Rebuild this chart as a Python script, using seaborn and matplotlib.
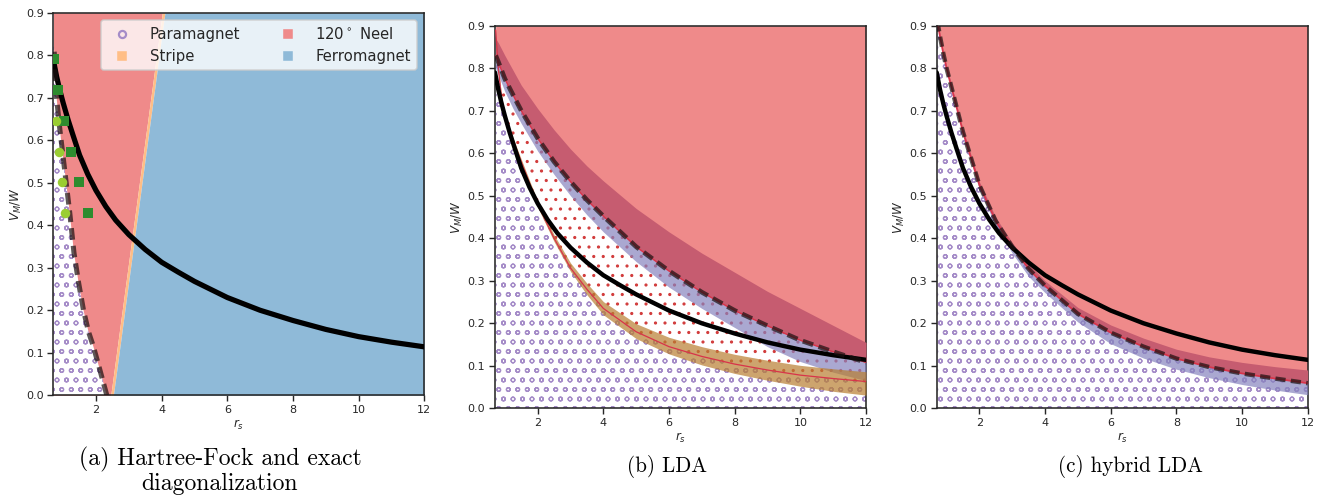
import matplotlib
matplotlib.use("Agg")
import matplotlib.pyplot as plt
import seaborn as sns
from matplotlib.lines import Line2D

# ---------------- data ----------------
# black solid line (same in all three panels)
RS_LINE = [0.70, 0.80, 0.90, 1.00, 1.15, 1.30, 1.50, 1.75, 2.00, 2.30, 2.60, 3.00, 3.50, 4.00, 4.50,
           5.00, 6.00, 7.00, 8.00, 9.00, 10.0, 11.0, 12.0]
V_LINE = [0.79, 0.75, 0.717, 0.688, 0.648, 0.612, 0.565, 0.520, 0.482, 0.444, 0.412, 0.378, 0.343, 0.313,
          0.290, 0.268, 0.230, 0.200, 0.176, 0.155, 0.138, 0.125, 0.114]

# panel (a): Hartree-Fock phase boundaries
V_PM_A = [0.0, 0.065, 0.115, 0.15, 0.20, 0.265, 0.335, 0.43, 0.495, 0.56, 0.625, 0.70, 0.82]
RS_PM_A = [2.33, 2.10, 1.92, 1.77, 1.62, 1.47, 1.33, 1.20, 1.10, 1.00, 0.90, 0.80, 0.72]
V_EDGE = [0.0, 0.9]
RS_NEEL_EDGE = [2.45, 4.02]
RS_FERRO_EDGE = [2.53, 4.10]
# exact diagonalization points
ED_SQ_RS = [0.71, 0.85, 1.04, 1.24, 1.49, 1.75]
ED_SQ_V = [0.79, 0.718, 0.646, 0.573, 0.502, 0.430]
ED_CI_RS = [0.77, 0.86, 0.96, 1.07]
ED_CI_V = [0.646, 0.573, 0.502, 0.430]

# panel (b): LDA
RS_B = [0.72, 0.8, 0.9, 1.0, 1.25, 1.5, 2.0, 2.5, 3.0, 3.5, 4.0, 5.0, 6.0, 7.0, 8.0, 9.0, 10.0, 11.0, 12.0]
DASH_B = [0.83, 0.815, 0.795, 0.775, 0.737, 0.70, 0.635, 0.58, 0.533, 0.49, 0.452, 0.38, 0.323, 0.273, 0.23, 0.194, 0.16, 0.133, 0.108]
DRED_TOP_B = [0.87, 0.86, 0.845, 0.83, 0.795, 0.76, 0.705, 0.655, 0.61, 0.57, 0.535, 0.47, 0.415, 0.365, 0.32, 0.275, 0.235, 0.195, 0.155]
LAV_LO_B = [0.80, 0.785, 0.765, 0.745, 0.705, 0.67, 0.605, 0.55, 0.50, 0.455, 0.415, 0.345, 0.285, 0.235, 0.19, 0.145, 0.11, 0.085, 0.065]
TAN_MID_B = [0.89, 0.80, 0.73, 0.69, 0.63, 0.58, 0.48, 0.40, 0.33, 0.28, 0.235, 0.18, 0.145, 0.122, 0.104, 0.09, 0.078, 0.07, 0.063]
TAN_HI_B = [0.895, 0.805, 0.735, 0.695, 0.636, 0.586, 0.487, 0.408, 0.342, 0.294, 0.251, 0.199, 0.167, 0.145, 0.127, 0.113, 0.101, 0.093, 0.086]
TAN_LO_B = [0.885, 0.795, 0.725, 0.685, 0.624, 0.574, 0.473, 0.392, 0.322, 0.267, 0.22, 0.164, 0.128, 0.102, 0.082, 0.066, 0.052, 0.04, 0.031]

# panel (c): hybrid LDA
RS_C = [0.72, 0.8, 0.9, 1.0, 1.25, 1.5, 2.0, 2.5, 3.0, 3.5, 4.0, 5.0, 6.0, 7.0, 8.0, 9.0, 10.0, 11.0, 12.0]
DASH_C = [0.91, 0.875, 0.835, 0.80, 0.725, 0.65, 0.525, 0.44, 0.38, 0.328, 0.288, 0.222, 0.178, 0.145, 0.117, 0.097, 0.082, 0.07, 0.059]
DRED_TOP_C = [0.915, 0.88, 0.84, 0.806, 0.731, 0.657, 0.533, 0.449, 0.39, 0.339, 0.30, 0.237, 0.196, 0.165, 0.139, 0.121, 0.108, 0.098, 0.09]
LAV_LO_C = [0.905, 0.87, 0.83, 0.795, 0.72, 0.643, 0.515, 0.428, 0.365, 0.31, 0.272, 0.203, 0.152, 0.118, 0.092, 0.072, 0.056, 0.043, 0.032]

X_TICKS = [2, 4, 6, 8, 10, 12]
Y_TICKS = [0.0, 0.1, 0.2, 0.3, 0.4, 0.5, 0.6, 0.7, 0.8, 0.9]
LEGEND_LABELS = ["Paramagnet", "Stripe", r"120$^\circ$ Neel", "Ferromagnet"]
CAPTIONS = ["(a) Hartree-Fock and exact\ndiagonalization", "(b) LDA", "(c) hybrid LDA"]

# ---------------- style ----------------
RED = "#EF8A8A"
BLUE = "#8FBAD8"
ORANGE = "#FFBE86"
PURP = "#A58CC8"
DOTRED = "#D23C3C"
DRED = "#C65C70"
LAV = "#8683BE"
TAN = "#B87E30"
THINRED = "#D8344A"

DPI = 114
sns.set_theme(style="ticks", rc={
    "axes.edgecolor": ".15", "axes.linewidth": 1.0,
    "xtick.major.size": 3.6, "ytick.major.size": 3.6,
    "xtick.major.width": 0.9, "ytick.major.width": 0.9,
    "xtick.labelsize": 7, "ytick.labelsize": 7,
    "xtick.major.pad": 2.8, "ytick.major.pad": 2.5,
    "xtick.color": ".15", "ytick.color": ".15",
    "axes.labelsize": 7.5, "axes.labelcolor": ".15",
    "hatch.linewidth": 0.8,
    "legend.fontsize": 9.4,
})

fig = plt.figure(figsize=(1320 / DPI, 498 / DPI), dpi=DPI)
W, H = 1320.0, 498.0


def make_ax(left_px, top_px):
    return fig.add_axes([left_px / W, 1 - (top_px + 382.6) / H, 371 / W, 382.6 / H])


axA = make_ax(53.3, 12.7)
axB = make_ax(495.0, 25.7)
axC = make_ax(936.7, 25.7)


def finish(ax):
    ax.set_xlim(0.7, 12)
    ax.set_ylim(0, 0.9)
    ax.set_xticks(X_TICKS)
    ax.set_yticks(Y_TICKS)
    ax.set_xlabel(r"$r_s$")
    ax.set_ylabel(r"$V_M/W$")
    ax.yaxis.set_label_coords(-0.08, 0.5)
    ax.xaxis.set_label_coords(0.5, -0.058)
    for s in ax.spines.values():
        s.set_visible(True)


def black_line(ax, lw):
    sns.lineplot(x=RS_LINE, y=V_LINE, ax=ax, color="black", lw=lw, zorder=5, legend=False)


def dashed(ax, x, y, lw=3.0):
    ax.plot(x, y, color="#1a1010", alpha=0.7, lw=lw, ls=(0, (2.3, 1.2)), zorder=6,
            solid_capstyle="butt", dash_capstyle="butt")


# ---- panel (a)
axA.fill_betweenx(V_EDGE, 0.7, RS_NEEL_EDGE, color=RED, lw=0, zorder=1)
axA.fill_betweenx(V_EDGE, RS_NEEL_EDGE, RS_FERRO_EDGE, color=ORANGE, lw=0, zorder=1)
axA.fill_betweenx(V_EDGE, RS_FERRO_EDGE, 12, color=BLUE, lw=0, zorder=1)
axA.fill_betweenx(V_PM_A, 0.7, RS_PM_A, facecolor="white", edgecolor=PURP, hatch="oo", lw=0, zorder=2)
black_line(axA, 3.3)
dashed(axA, RS_PM_A, V_PM_A, 3.2)
sns.scatterplot(x=ED_SQ_RS, y=ED_SQ_V, ax=axA, marker="s", color="#2E8B2E", s=36, linewidth=0, zorder=7)
sns.scatterplot(x=ED_CI_RS, y=ED_CI_V, ax=axA, marker="o", color="#9ACD32", s=36, linewidth=0, zorder=7)
handles = [
    Line2D([], [], ls="none", marker="o", markerfacecolor="none", markeredgecolor=PURP, mew=1.4, ms=4.5),
    Line2D([], [], ls="none", marker="s", color=ORANGE, ms=4.8),
    Line2D([], [], ls="none", marker="s", color=RED, ms=4.8),
    Line2D([], [], ls="none", marker="s", color=BLUE, ms=4.8),
]
leg = axA.legend(handles, LEGEND_LABELS, ncol=2, loc="upper right", borderaxespad=0.5,
                 handlelength=2.0, handletextpad=0.85, columnspacing=2.2, labelspacing=0.45,
                 frameon=True, framealpha=0.8, edgecolor="0.8", fancybox=True)
leg.set_zorder(10)
finish(axA)

# ---- panel (b)
axB.fill_between(RS_B, 0, TAN_MID_B, facecolor="white", edgecolor=PURP, hatch="oo", lw=0, zorder=1)
axB.fill_between(RS_B, TAN_MID_B, DASH_B, facecolor="white", edgecolor=DOTRED, hatch="..", lw=0, zorder=1)
axB.fill_between(RS_B, DASH_B, 0.9, color=RED, lw=0, zorder=2)
axB.fill_between(RS_B, DASH_B, DRED_TOP_B, color=DRED, lw=0, zorder=3)
axB.fill_between(RS_B, LAV_LO_B, DASH_B, color=LAV, alpha=0.7, lw=0, zorder=3.5)
axB.fill_between(RS_B, TAN_LO_B, TAN_HI_B, color=TAN, alpha=0.7, lw=0, zorder=3.6)
axB.plot(RS_B, TAN_MID_B, color=THINRED, lw=0.8, zorder=4)
axB.plot(RS_B, DASH_B, color=THINRED, lw=0.9, zorder=4)
black_line(axB, 2.8)
dashed(axB, RS_B, DASH_B, 3.0)
finish(axB)

# ---- panel (c)
axC.fill_between(RS_C, 0, DASH_C, facecolor="white", edgecolor=PURP, hatch="oo", lw=0, zorder=1)
axC.fill_between(RS_C, DASH_C, 0.9, color=RED, lw=0, zorder=2)
axC.fill_between(RS_C, DASH_C, DRED_TOP_C, color=DRED, lw=0, zorder=3)
axC.fill_between(RS_C, LAV_LO_C, DASH_C, color=LAV, alpha=0.7, lw=0, zorder=3.5)
axC.plot(RS_C, DASH_C, color=THINRED, lw=1.1, zorder=4)
black_line(axC, 2.8)
dashed(axC, RS_C, DASH_C, 2.8)
finish(axC)

# ---- captions
cap_kw = dict(fontfamily="cmr10", ha="center", va="center", color="black")
fig.text(220 / W, 1 - 471 / H, CAPTIONS[0], linespacing=1.1, fontsize=15, **cap_kw)
fig.text(667 / W, 1 - 467 / H, CAPTIONS[1], fontsize=13.3, **cap_kw)
fig.text(1130 / W, 1 - 467 / H, CAPTIONS[2], fontsize=13.3, **cap_kw)

fig.savefig("out.png", dpi=DPI)
